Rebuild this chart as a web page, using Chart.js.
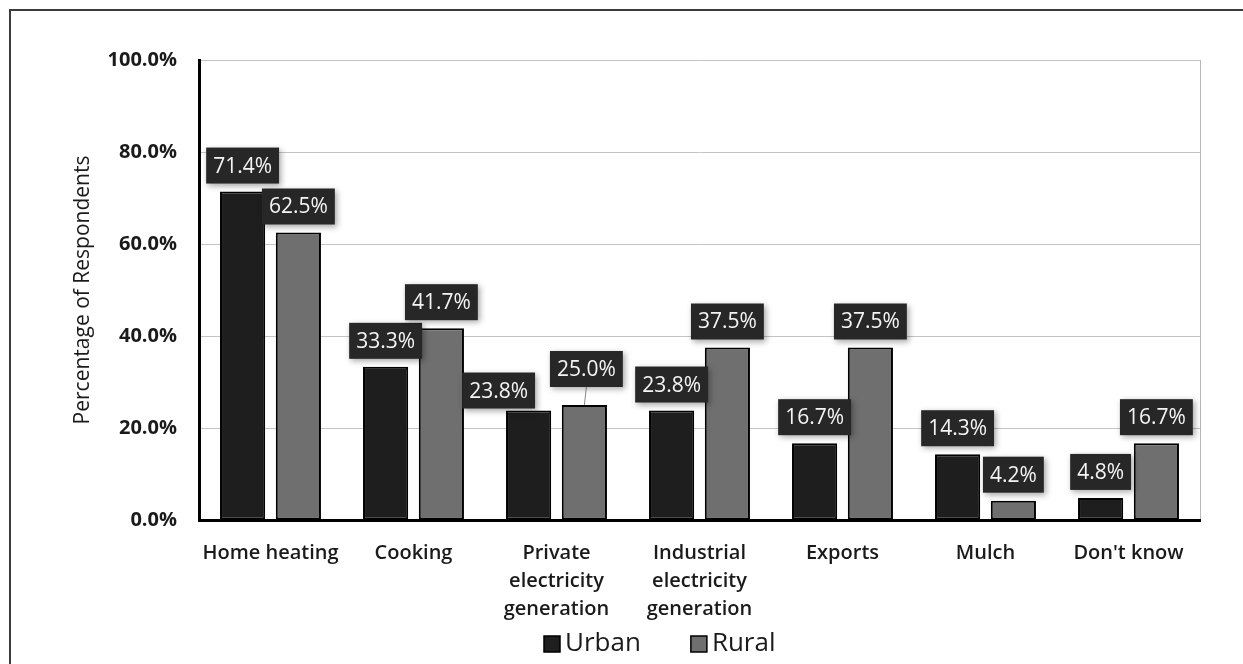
<!DOCTYPE html>
<html>
<head>
<meta charset="utf-8">
<script src="https://cdn.jsdelivr.net/npm/chart.js@4.4.1/dist/chart.umd.min.js"></script>
<style>
  html, body { margin: 0; padding: 0; background: #fff; overflow: hidden; }
  canvas { display: block; }
</style>
</head>
<body>
<canvas id="chart" width="1243" height="664"></canvas>
<script>
const categories = ["Home heating", "Cooking", ["Private", "electricity", "generation"],
  ["Industrial", "electricity", "generation"], "Exports", "Mulch", "Don't know"];
const urban = [71.4, 33.3, 23.8, 23.8, 16.7, 14.3, 4.8];
const rural = [62.5, 41.7, 25.0, 37.5, 37.5, 4.2, 16.7];
const yMin = 0, yMax = 100, yStep = 20;

// hand-placed label nudges (dataset-index: [dx, dy]) as in the original
const labelNudge = { "0-2": [-30, 6], "1-2": [2, -10] };

const FONT = '"Open Sans", "DejaVu Sans", sans-serif';
const INK = "#1a1a1a";

const decor = {
  id: "decor",
  beforeDraw(chart) {
    const ctx = chart.ctx, a = chart.chartArea;
    ctx.save();
    ctx.strokeStyle = "#3c3c3c"; ctx.lineWidth = 2;
    ctx.strokeRect(10, 10, 1400, 800);            // outer frame, runs off right/bottom
    ctx.strokeStyle = "#b8b8b8"; ctx.lineWidth = 1;
    ctx.beginPath(); ctx.moveTo(a.right + 0.5, a.top); ctx.lineTo(a.right + 0.5, a.bottom); ctx.stroke();
    ctx.restore();
  },
  afterDatasetsDraw(chart) {
    const ctx = chart.ctx;
    ctx.save();
    ctx.font = "21px " + FONT;
    ctx.textAlign = "center"; ctx.textBaseline = "middle";
    chart.data.datasets.forEach((ds, di) => {
      chart.getDatasetMeta(di).data.forEach((bar, i) => {
        const txt = ds.data[i].toFixed(1) + "%";
        const n = labelNudge[di + "-" + i] || [0, 0];
        const w = ctx.measureText(txt).width + 14, h = 36;
        const cx = bar.x + n[0], bottom = bar.y - 8 + n[1];
        if (n[1] < 0) {
          ctx.strokeStyle = "#8a8a8a"; ctx.lineWidth = 1;
          ctx.beginPath(); ctx.moveTo(cx, bottom); ctx.lineTo(bar.x, bar.y); ctx.stroke();
        }
        ctx.shadowColor = "rgba(0,0,0,0.35)"; ctx.shadowBlur = 6; ctx.shadowOffsetX = 2; ctx.shadowOffsetY = 2;
        ctx.fillStyle = "#272727";
        ctx.fillRect(cx - w / 2, bottom - h, w, h);
        ctx.shadowColor = "transparent";
        ctx.fillStyle = "#f4f4f4";
        ctx.fillText(txt, cx, bottom - h / 2 + 1);
      });
    });
    ctx.restore();
  },
  afterDraw(chart) {
    // legend below the axis labels
    const ctx = chart.ctx;
    ctx.save();
    ctx.font = "26px " + FONT;
    ctx.textBaseline = "middle";
    let x = 544; const y = 644;
    chart.data.datasets.forEach(ds => {
      ctx.fillStyle = ds.backgroundColor; ctx.strokeStyle = "#000"; ctx.lineWidth = 1.5;
      ctx.fillRect(x, y - 8, 16, 16); ctx.strokeRect(x, y - 8, 16, 16);
      ctx.fillStyle = INK;
      ctx.fillText(ds.label, x + 21, y);
      x += 21 + ctx.measureText(ds.label).width + 50;
    });
    ctx.restore();
  }
};

new Chart(document.getElementById("chart"), {
  type: "bar",
  data: {
    labels: categories,
    datasets: [
      { label: "Urban", data: urban, backgroundColor: "#1e1e1e", borderColor: "#000", borderWidth: 2, borderSkipped: false },
      { label: "Rural", data: rural, backgroundColor: "#6f6f6f", borderColor: "#000", borderWidth: 2, borderSkipped: false },
    ],
  },
  options: {
    responsive: false, animation: false, devicePixelRatio: 1,
    categoryPercentage: 0.78, barPercentage: 0.81,
    layout: { padding: { top: 60, right: 43, bottom: 24, left: 0 } },
    plugins: { legend: { display: false }, tooltip: { enabled: false } },
    scales: {
      x: {
        grid: { display: false },
        border: { color: "#000", width: 3 },
        ticks: { color: INK, maxRotation: 0, autoSkip: false, padding: 11,
                 font: { family: FONT, size: 20, weight: "600", lineHeight: 1.4 } },
        afterFit(s) { s.height = 120; },
      },
      y: {
        min: yMin, max: yMax,
        grid: { color: "#c4c4c4", lineWidth: 1, drawTicks: false },
        border: { color: "#000", width: 3 },
        ticks: { stepSize: yStep, color: INK, padding: 22,
                 font: { family: FONT, size: 20, weight: "bold" },
                 callback: v => v.toFixed(1) + "%" },
        title: { display: true, text: "Percentage of Respondents", color: INK,
                 font: { family: FONT, size: 21 }, padding: { top: 70, bottom: 0 } },
        afterFit(s) { s.width = 199; },
      },
    },
  },
  plugins: [decor],
});
</script>
</body>
</html>
